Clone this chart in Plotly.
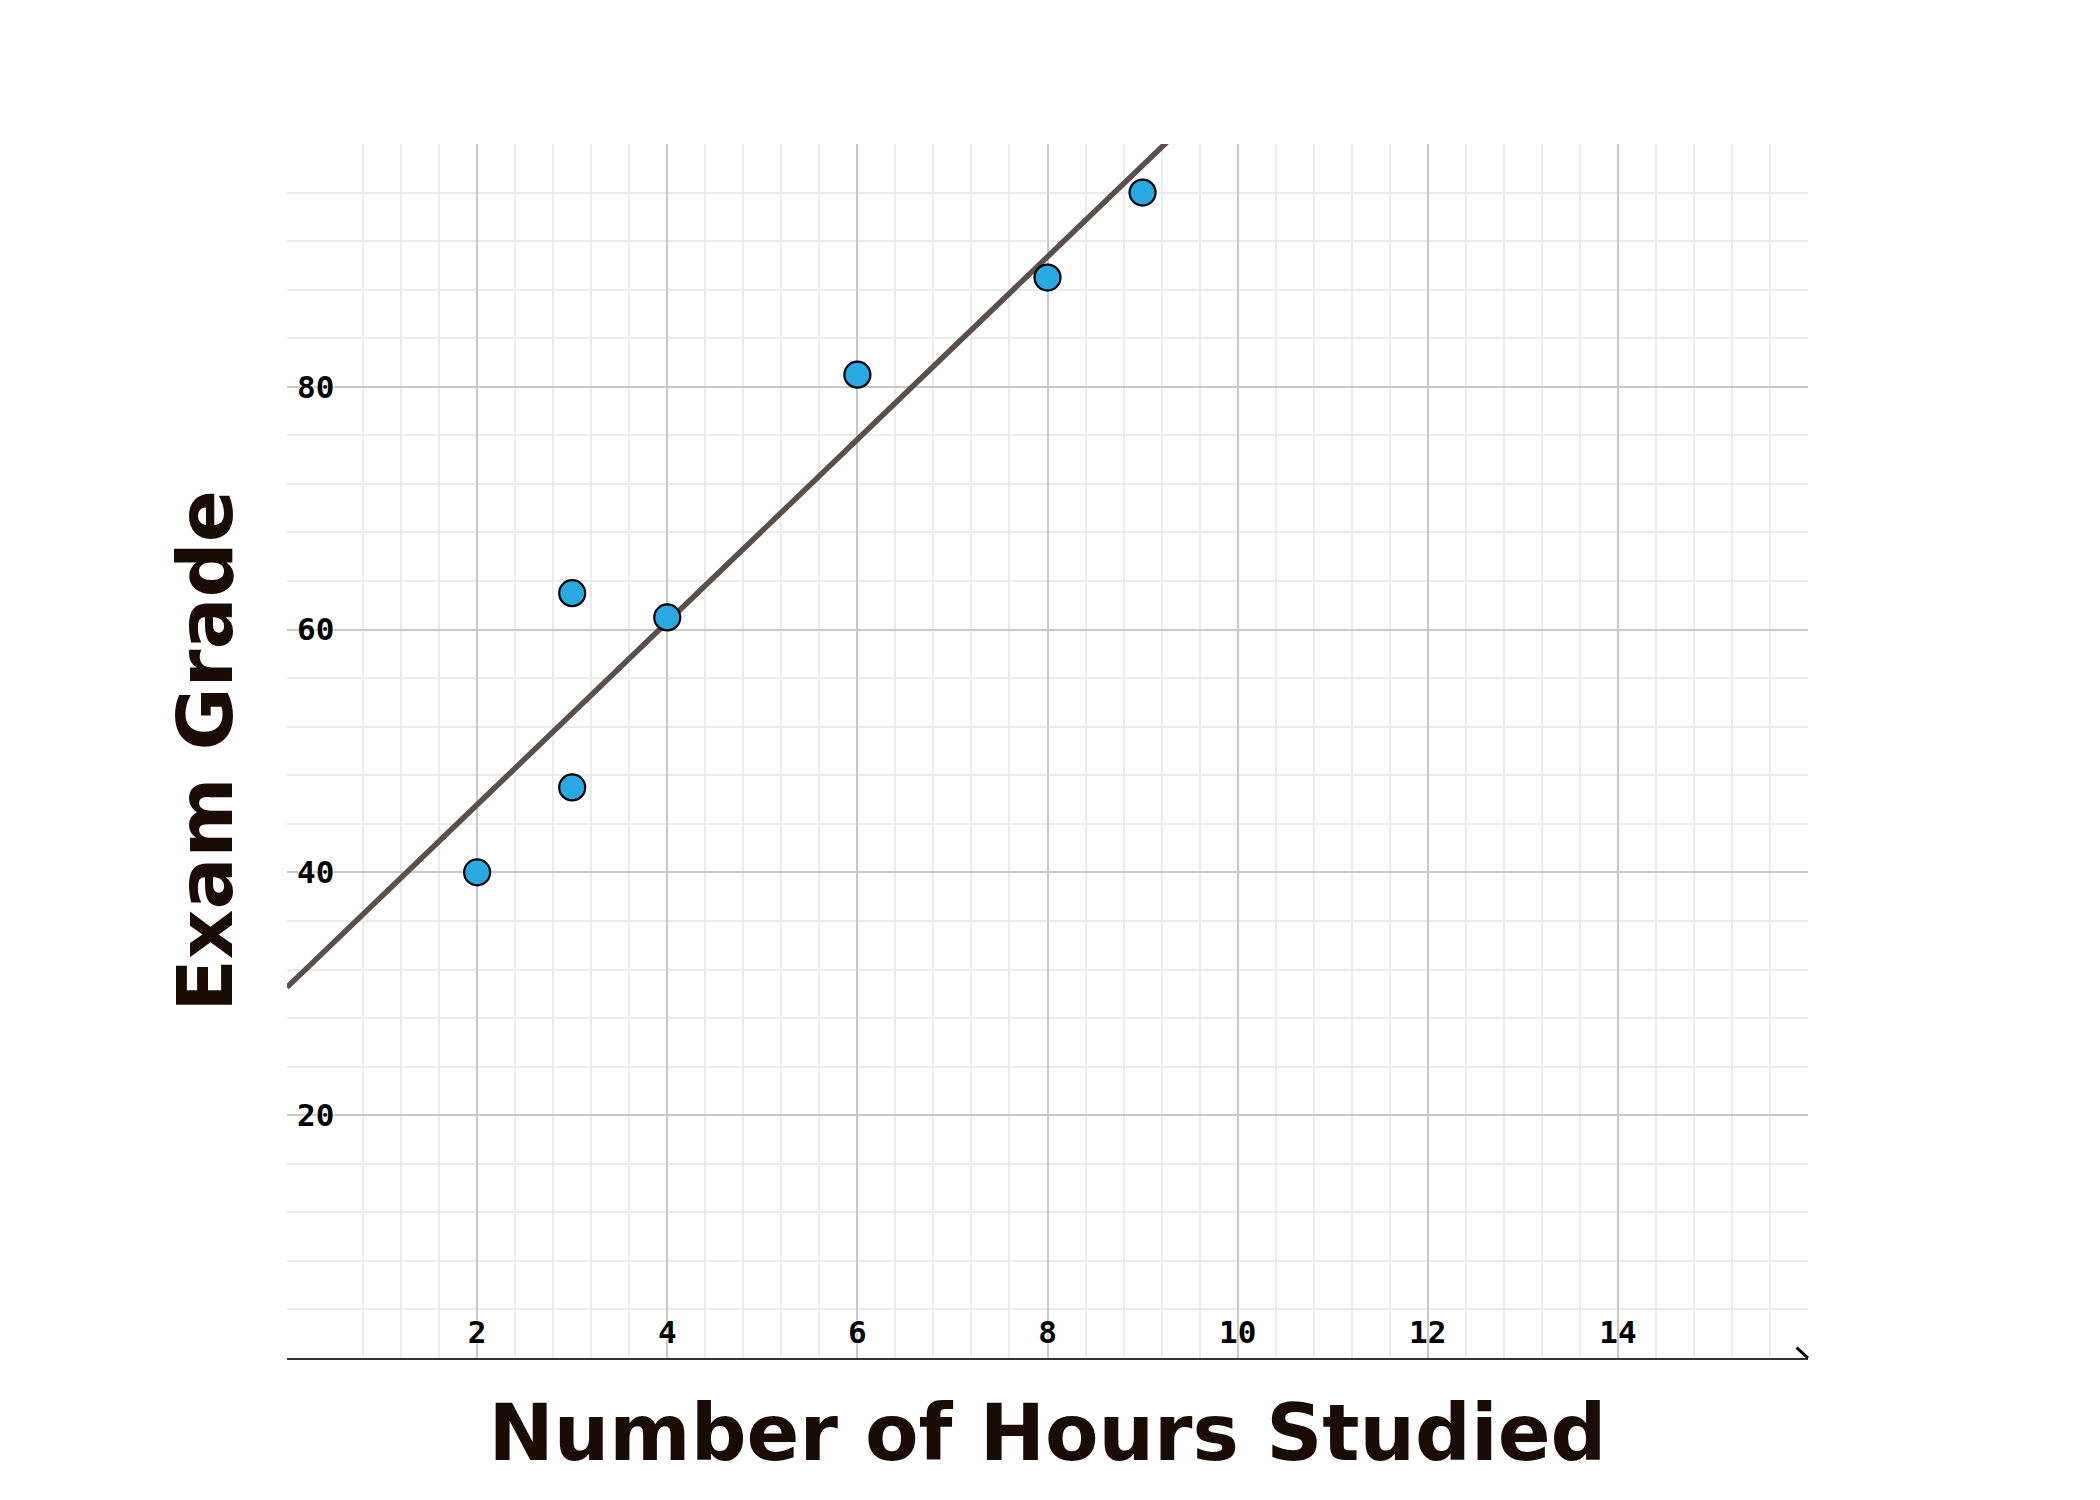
import numpy as np
import plotly.graph_objects as go

# Data
hours = [2, 3, 3, 4, 6, 8, 9]
grades = [40, 63, 47, 61, 81, 89, 96]

x_tickvals = [2, 4, 6, 8, 10, 12, 14, 16]
x_ticktext = ["2", "4", "6", "8", "10", "12", "14", ""]
y_tickvals = [20, 40, 60, 80, 100]
y_ticktext = ["20", "40", "60", "80", ""]

# Least squares fit line
slope, intercept = np.polyfit(hours, grades, 1)
fit_x = [0, 16]
fit_y = [intercept + slope * v for v in fit_x]

fig = go.Figure()
fig.add_trace(go.Scatter(
    x=fit_x, y=fit_y, mode="lines",
    line=dict(color="#5a4f4b", width=5.5),
    hoverinfo="skip", showlegend=False,
))
fig.add_trace(go.Scatter(
    x=hours, y=grades, mode="markers",
    marker=dict(size=26, color="#29a9e1", line=dict(color="#000000", width=2.2)),
    showlegend=False,
))

tick_font = dict(family="DejaVu Sans Mono", size=31, color="#000000", weight="bold",
                 shadow="0px 0px 3px white")
x_title_font = dict(family="DejaVu Sans", size=78, color="#1a0b05", weight="bold")
y_title_font = dict(family="DejaVu Sans", size=77, color="#1a0b05", weight="bold")

fig.update_xaxes(
    range=[0, 16], tickvals=x_tickvals, ticktext=x_ticktext,
    ticklabelposition="inside", ticklabelstandoff=12, tickfont=tick_font, ticks="",
    showgrid=True, gridcolor="#c8c8c8", gridwidth=2,
    minor=dict(dtick=0.4, tick0=0, showgrid=True, gridcolor="#ebebeb", gridwidth=2),
    zeroline=False, showline=True, linecolor="#333333", linewidth=2,
    title=dict(text="Number of Hours Studied", font=x_title_font, standoff=56),
)
fig.update_yaxes(
    range=[0, 100], tickvals=y_tickvals, ticktext=y_ticktext,
    ticklabelposition="inside", ticklabelstandoff=7, tickfont=tick_font, ticks="",
    showgrid=True, gridcolor="#c8c8c8", gridwidth=2,
    minor=dict(dtick=4, tick0=0, showgrid=True, gridcolor="#ebebeb", gridwidth=2),
    zeroline=False, showline=False,
    title=dict(text="Exam Grade", font=y_title_font, standoff=39),
)

fig.add_shape(type="line", xref="x domain", yref="y domain",
              x0=0.9925, y0=0.0085, x1=1.0, y1=0.0,
              line=dict(color="#000000", width=3))

fig.update_layout(
    width=2100, height=1500,
    margin=dict(l=279, r=300, t=136, b=150),
    paper_bgcolor="white", plot_bgcolor="white",
)

fig.write_html("out.html")
